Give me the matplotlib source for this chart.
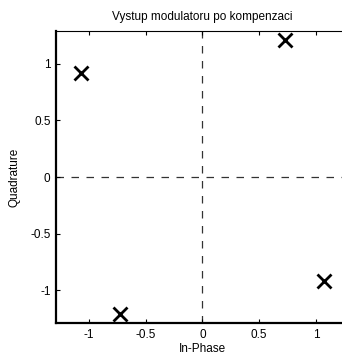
import matplotlib
matplotlib.use("Agg")
import matplotlib.pyplot as plt

# constellation points after compensation
in_phase = [-1.07, 0.73, -0.73, 1.07]
quadrature = [0.92, 1.21, -1.21, -0.92]

x_ticks = [-1, -0.5, 0, 0.5, 1]
y_ticks = [-1, -0.5, 0, 0.5, 1]
lim = 1.29

plt.rcParams["font.family"] = ["Liberation Sans", "DejaVu Sans"]

fig = plt.figure(figsize=(3.42, 3.52), dpi=100)
ax = fig.add_axes([0.164, 0.082, 0.856, 0.830])

ax.axhline(0, color="#333333", linestyle=(0, (6, 6)), linewidth=0.9, zorder=1)
ax.axvline(0, color="#333333", linestyle=(0, (6, 6)), linewidth=0.9, zorder=1)
ax.plot(in_phase, quadrature, linestyle="none", marker="x", markersize=10.5,
        markeredgewidth=2.0, color="black", zorder=3)

ax.set_xlim(-lim, lim)
ax.set_ylim(-lim, lim)
ax.set_xticks(x_ticks)
ax.set_yticks(y_ticks)
ax.set_xticklabels(["-1", "-0.5", "0", "0.5", "1"])
ax.set_yticklabels(["-1", "-0.5", "0", "0.5", "1"])
ax.tick_params(direction="in", length=3, width=0.8, labelsize=8.5,
               top=True, right=True, pad=4)

for side in ["left", "bottom"]:
    ax.spines[side].set_linewidth(1.6)
for side in ["top", "right"]:
    ax.spines[side].set_linewidth(0.8)

ax.set_title("Vystup modulatoru po kompenzaci", fontsize=8.5, pad=8)
ax.set_xlabel("In-Phase", fontsize=8.5, labelpad=2)
ax.set_ylabel("Quadrature", fontsize=8.5, labelpad=7)

fig.savefig("out.png", dpi=100, facecolor="white")
